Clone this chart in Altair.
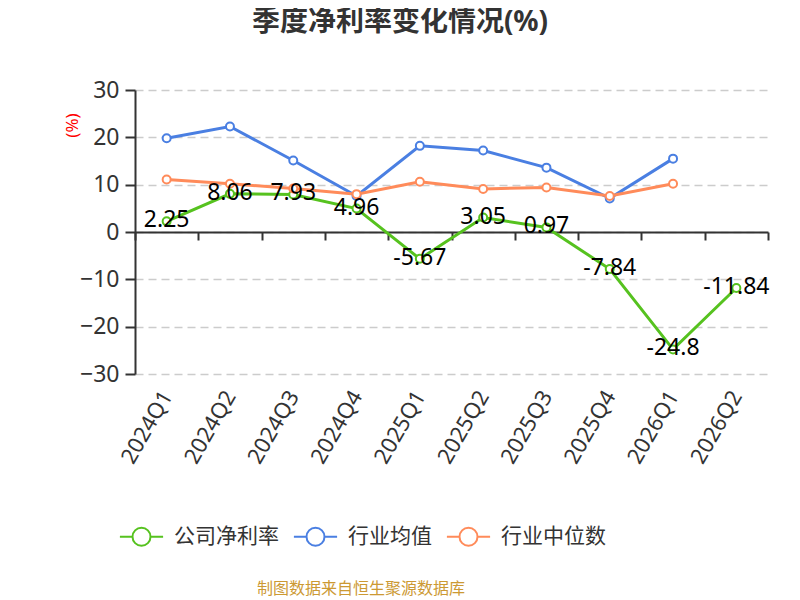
import altair as alt
import pandas as pd

quarters = ['2024Q1', '2024Q2', '2024Q3', '2024Q4', '2025Q1', '2025Q2',
            '2025Q3', '2025Q4', '2026Q1', '2026Q2']
company = [2.25, 8.06, 7.93, 4.96, -5.67, 3.05, 0.97, -7.84, -24.8, -11.84]
company_labels = ['2.25', '8.06', '7.93', '4.96', '-5.67', '3.05', '0.97',
                  '-7.84', '-24.8', '-11.84']
industry_mean = [19.8, 22.3, 15.1, 7.6, 18.2, 17.2, 13.6, 7.1, 15.5, None]
industry_median = [11.1, 10.2, 9.2, 8.0, 10.6, 9.1, 9.4, 7.6, 10.2, None]

series_names = ['公司净利率', '行业均值', '行业中位数']
series_colors = ['#56c21f', '#4a7fe2', '#ff8b5a']
boundaries = list(range(11))
title_text = '季度净利率变化情况(%)'
source_text = '制图数据来自恒生聚源数据库'

W, H = 633, 284
FONT = 'Noto Sans, Noto Sans CJK SC, sans-serif'

rows = []
for name, vals in zip(series_names, [company, industry_mean, industry_median]):
    for q, v in zip(quarters, vals):
        if v is not None:
            rows.append({'quarter': q, 'series': name, 'value': v})
df = pd.DataFrame(rows)
lab_df = pd.DataFrame({'quarter': quarters, 'value': company, 'label': company_labels})
bnd_df = pd.DataFrame({'b': boundaries})

x_scale = alt.Scale(type='point', padding=0.5, domain=quarters)
x_enc = alt.X('quarter:N', sort=quarters, scale=x_scale,
              axis=alt.Axis(labelAngle=-60, labelFontSize=22, labelColor='#333',
                            labelFont=FONT, labelAlign='right', labelBaseline='middle',
                            labelPadding=18, domain=False, ticks=False, grid=False,
                            title=None))
x_plain = alt.X('quarter:N', sort=quarters, scale=x_scale, axis=None)
y_scale = alt.Scale(domain=[-30, 30], nice=False, zero=False)
y_enc = alt.Y('value:Q', scale=y_scale,
              axis=alt.Axis(values=[-30, -20, -10, 0, 10, 20, 30],
                            domainColor='#333', domainWidth=2,
                            tickColor='#333', tickSize=10, tickWidth=2,
                            labelFontSize=23, labelColor='#333', labelFont=FONT,
                            labelPadding=6,
                            gridColor='#cccccc', gridDash=[8, 5], gridWidth=1.5,
                            title='(%)', titleColor='red', titleFontSize=17,
                            titleFontWeight='normal', titleFont=FONT,
                            titleAngle=-90, titleX=-63, titleY=35,
                            titleAlign='center', titleBaseline='middle'))

legend_symbol = 'M-2.4,0H-1M1,0H2.4M-1,0A1,1 0 1,1 1,0A1,1 0 1,1 -1,0Z'

lines = alt.Chart(df).mark_line(strokeWidth=3).encode(
    x=x_enc, y=y_enc,
    color=alt.Color('series:N',
                    scale=alt.Scale(domain=series_names, range=series_colors),
                    legend=alt.Legend(orient='none', legendX=-4, legendY=436,
                                      direction='horizontal', title=None,
                                      symbolType=legend_symbol, symbolSize=324,
                                      symbolStrokeWidth=2, symbolFillColor='white',
                                      labelFontSize=21, labelColor='#333',
                                      labelFont=FONT, labelOffset=22,
                                      columnPadding=10, padding=0)),
)

points = alt.Chart(df).mark_point(shape='circle', filled=True, fill='white',
                                  strokeWidth=2, size=64, opacity=1).encode(
    x=x_plain, y=alt.Y('value:Q', scale=y_scale),
    stroke=alt.Stroke('series:N',
                      scale=alt.Scale(domain=series_names, range=series_colors),
                      legend=None),
)

labels = alt.Chart(lab_df).mark_text(fontSize=23, color='black', font=FONT,
                                     baseline='middle', align='center', dy=-1).encode(
    x=x_plain, y=alt.Y('value:Q', scale=y_scale),
    text='label:N',
)

axis_layer = alt.Chart(bnd_df).mark_point(opacity=0).encode(
    x=alt.X('b:Q', scale=alt.Scale(domain=[0, 10], nice=False, zero=False),
            axis=alt.Axis(values=boundaries, labels=False, ticks=True, tickSize=8,
                          tickWidth=2, tickColor='#333', domain=True,
                          domainColor='#333', domainWidth=2, grid=False,
                          title=None, orient='bottom', offset=-H / 2)),
)

source = alt.Chart(pd.DataFrame({'t': [source_text]})).mark_text(
    fontSize=16, color='#cc9933', font=FONT, align='center', baseline='middle'
).encode(x=alt.value(226), y=alt.value(499), text='t:N')

title = alt.Chart(pd.DataFrame({'t': [title_text]})).mark_text(
    fontSize=28, fontWeight='bold', color='#333', font=FONT,
    align='center', baseline='alphabetic'
).encode(x=alt.value(265), y=alt.value(-59.5), text='t:N')

chart = alt.layer(lines, points, labels, axis_layer, source, title).resolve_scale(
    x='independent'
).properties(
    width=W, height=H,
    autosize=alt.AutoSizeParams(type='none'),
    padding={'left': 127, 'top': 82, 'right': 16, 'bottom': 226},
).configure_view(stroke=None)

chart.save('out.html', embed_options={'renderer': 'svg', 'actions': False})
